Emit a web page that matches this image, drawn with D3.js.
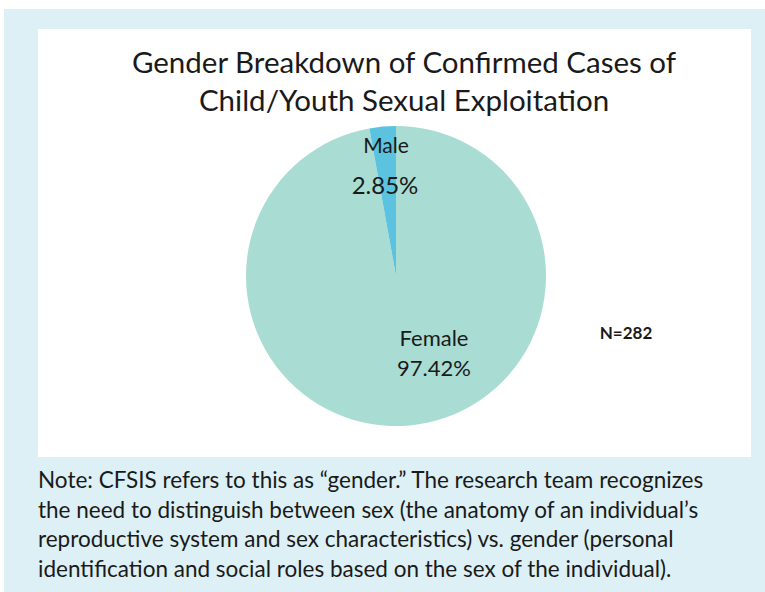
<!DOCTYPE html>
<html>
<head>
<meta charset="utf-8">
<script src="https://cdn.jsdelivr.net/npm/d3@7"></script>
<style>
  body { margin: 0; background: #fff; }
  text { font-family: Lato, "Open Sans", sans-serif; fill: #1a1a1a; }
</style>
</head>
<body>
<div id="chart"></div>
<script>
// data
var categories = ["Female", "Male"];
var values = [97.42, 2.85];
var colors = ["#a9dcd2", "#5bc3df"];
var titleLines = ["Gender Breakdown of Confirmed Cases of", "Child/Youth Sexual Exploitation"];
var noteLines = [
  "Note: CFSIS refers to this as \u201cgender.\u201d The research team recognizes",
  "the need to distinguish between sex (the anatomy of an individual\u2019s",
  "reproductive system and sex characteristics) vs. gender (personal",
  "identification and social roles based on the sex of the individual)."
];
var totalN = 282;

function init(){
  var w = 765, h = 592;

  var svg = d3.select("#chart")
    .append("svg")
      .attr("width", w)
      .attr("height", h);

  // light blue frame and white panel
  svg.append("rect")
    .attr("x", 4).attr("y", 9)
    .attr("width", w - 4).attr("height", h - 9)
    .style("fill", "#dcf0f5");
  svg.append("rect")
    .attr("x", 38).attr("y", 29)
    .attr("width", 713).attr("height", 428)
    .style("fill", "#ffffff");

  // title
  svg.selectAll("text.title")
    .data(titleLines)
    .enter()
    .append("text")
      .attr("class", "title")
      .attr("x", 404)
      .attr("y", function(d, i){ return 73 + i * 38; })
      .attr("text-anchor", "middle")
      .style("font-size", "29.5px")
      .text(function(d){ return d; });

  var data = categories.map(function(c, i){ return {name: c, value: values[i]}; });

  var color = d3.scaleOrdinal()
    .domain(categories)
    .range(colors);

  var pie = d3.pie()
    .sort(null)
    .value(function(d){ return d.value; });

  var r = 150;
  var arc = d3.arc().innerRadius(0).outerRadius(r);

  var g = svg.append("g")
    .attr("transform", "translate(" + 396 + "," + 276 + ")");

  g.selectAll("path")
    .data(pie(data))
    .enter()
    .append("path")
      .attr("d", arc)
      .style("fill", function(d){ return color(d.data.name); });

  // slice labels (name on first line, percent below)
  var labelPos = {
    Female: {x: 38, y: 70, x2: 38, y2: 100, s1: 22, s2: 22},
    Male: {x: -10, y: -123, x2: -11, y2: -82, s1: 21, s2: 24}
  };
  var labels = g.selectAll("g.lbl")
    .data(pie(data))
    .enter()
    .append("g")
      .attr("class", "lbl");
  labels.append("text")
    .attr("x", function(d){ return labelPos[d.data.name].x; })
    .attr("y", function(d){ return labelPos[d.data.name].y; })
    .attr("text-anchor", "middle")
    .style("font-size", function(d){ return labelPos[d.data.name].s1 + "px"; })
    .text(function(d){ return d.data.name; });
  labels.append("text")
    .attr("x", function(d){ return labelPos[d.data.name].x2; })
    .attr("y", function(d){ return labelPos[d.data.name].y2; })
    .attr("text-anchor", "middle")
    .style("font-size", function(d){ return labelPos[d.data.name].s2 + "px"; })
    .text(function(d){ return d.data.value.toFixed(2) + "%"; });

  svg.append("text")
    .attr("x", 626)
    .attr("y", 339)
    .attr("text-anchor", "middle")
    .style("font-size", "17px")
    .style("font-weight", "bold")
    .text("N=" + totalN);

  // note under the panel
  svg.selectAll("text.note")
    .data(noteLines)
    .enter()
    .append("text")
      .attr("class", "note")
      .attr("x", 38)
      .attr("y", function(d, i){ return 488 + i * 29.5; })
      .style("font-size", "22.5px")
      .text(function(d){ return d; });
}
window.onload = init;
</script>
</body>
</html>
